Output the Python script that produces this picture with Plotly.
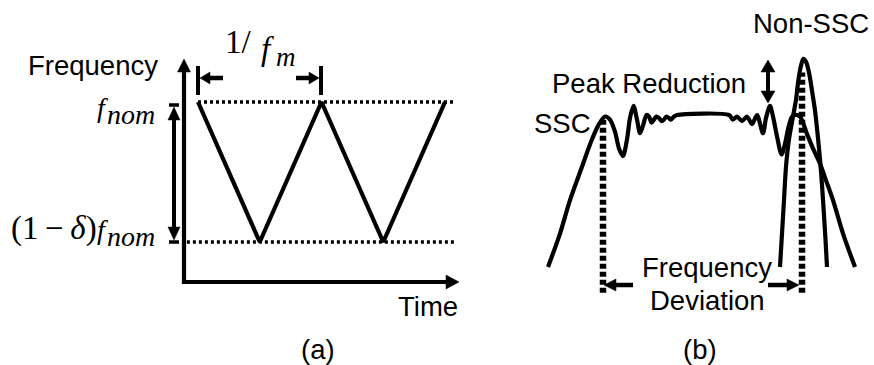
import plotly.graph_objects as go

# ---- (a) triangular frequency modulation: time in modulation periods, frequency normalised (f_nom = 1, (1-delta) f_nom = 0)
tri_time = [0.0, 0.5, 1.0, 1.5, 2.0]
tri_freq = [1.0, 0.0, 1.0, 0.0, 1.0]
level_top_t = [0.0, 2.08]
level_bot_t = [-0.09, 2.08]
level_values = [1.0, 0.0]

# ---- (b) spectrum: frequency offset (normalised) vs. magnitude (SSC plateau = 1)
ssc_f = [-1.52, -1.40, -1.30, -1.18, -1.08, -1.01, -0.95, -0.90, -0.85, -0.81, -0.77, -0.73, -0.70,
         -0.665, -0.63, -0.60, -0.57, -0.535, -0.51, -0.485, -0.46, -0.435, -0.41, -0.385, -0.36,
         -0.335, -0.31, -0.29, -0.26, -0.23, 0.29, 0.33, 0.37, 0.42, 0.47, 0.52, 0.57, 0.63, 0.66,
         0.70, 0.73, 0.77, 0.815, 0.85, 0.885, 0.92, 0.95, 1.00, 1.067, 1.13, 1.20, 1.26, 1.33, 1.43, 1.55]
ssc_mag = [0.00, 0.22, 0.44, 0.66, 0.84, 0.94, 0.99, 0.97, 0.89, 0.78, 0.73, 0.84, 0.98,
           1.06, 0.97, 0.88, 0.93, 1.00, 0.99, 0.95, 0.97, 0.99, 0.98, 0.96, 0.97,
           0.99, 0.98, 0.97, 0.99, 1.00, 1.00, 0.97, 0.99, 0.96, 0.99, 0.94, 1.00, 0.88, 0.98,
           1.06, 0.99, 0.86, 0.74, 0.81, 0.92, 0.99, 1.00, 0.99, 0.88, 0.78, 0.68, 0.57, 0.44, 0.22, 0.00]
nonssc_f = [0.80, 0.82, 0.84, 0.86, 0.89, 0.93, 0.96, 0.98, 1.005, 1.033, 1.06, 1.09, 1.12, 1.15,
            1.175, 1.20, 1.22, 1.24, 1.255, 1.27]
nonssc_mag = [0.00, 0.22, 0.44, 0.66, 0.84, 0.99, 1.10, 1.21, 1.31, 1.37, 1.35, 1.28, 1.16, 1.03,
              0.88, 0.71, 0.54, 0.34, 0.18, 0.00]
dev_edges_f = [-0.97, 1.02]
dev_edges_top = [0.97, 1.28]
dev_bottom = -0.17

BLACK = "black"
SANS = "Liberation Sans, Arial, sans-serif"
SERIF = "Liberation Serif, Times New Roman, serif"

fig = go.Figure()

# panel (a) reference levels (dotted) and the triangular sweep
for ts, lv in zip([level_top_t, level_bot_t], level_values):
    fig.add_shape(type="line", xref="x", yref="y", x0=ts[0], x1=ts[1], y0=lv, y1=lv,
                  line=dict(color=BLACK, width=3.5, dash="3px,3px"))
fig.add_trace(go.Scatter(x=tri_time, y=tri_freq, mode="lines",
                         line=dict(color=BLACK, width=4.2), xaxis="x", yaxis="y"))

# panel (b): deviation edges as heavy dotted verticals, then the two spectra
for fx, top in zip(dev_edges_f, dev_edges_top):
    fig.add_shape(type="line", xref="x2", yref="y2", x0=fx, x1=fx, y0=dev_bottom, y1=top,
                  line=dict(color=BLACK, width=6.5, dash="5px,3px"))
fig.add_trace(go.Scatter(x=ssc_f, y=ssc_mag, mode="lines", line_shape="spline",
                         line=dict(color=BLACK, width=4.2, smoothing=0.8), xaxis="x2", yaxis="y2"))
fig.add_trace(go.Scatter(x=nonssc_f, y=nonssc_mag, mode="lines", line_shape="spline",
                         line=dict(color=BLACK, width=4.2, smoothing=0.8), xaxis="x2", yaxis="y2"))


# ---- annotation graphics in page-pixel axes (x3 / y3)
def seg(x0, y0, x1, y1, w):
    fig.add_trace(go.Scatter(x=[x0, x1], y=[y0, y1], mode="lines",
                             line=dict(color=BLACK, width=w), xaxis="x3", yaxis="y3"))


def head(tx, ty, dx, dy, length, half):
    bx, by = tx - dx * length, ty - dy * length
    nx, ny = -dy, dx
    fig.add_trace(go.Scatter(x=[tx, bx + nx * half, bx - nx * half, tx],
                             y=[ty, by + ny * half, by - ny * half, ty],
                             mode="lines", fill="toself", fillcolor=BLACK,
                             line=dict(color=BLACK, width=0.5), xaxis="x3", yaxis="y3"))


def arrow(x0, y0, x1, y1, w, length, half):
    d = ((x1 - x0) ** 2 + (y1 - y0) ** 2) ** 0.5
    dx, dy = (x1 - x0) / d, (y1 - y0) / d
    seg(x0, y0, x1 - dx * (length - 1), y1 - dy * (length - 1), w)
    head(x1, y1, dx, dy, length, half)


# axes of panel (a)
arrow(184, 284, 184, 59, 4.2, 13, 6.5)
arrow(182, 282, 459, 282, 4.2, 13, 7)
# modulation period markers
seg(198, 66, 198, 95, 4)
seg(321, 66, 321, 95, 4)
arrow(223, 78, 200, 78, 4.5, 10, 6)
arrow(296, 78, 319, 78, 4.5, 10, 6)
# frequency span arrow
seg(169, 105, 179, 105, 3.5)
seg(169, 242, 179, 242, 3.5)
arrow(174, 170, 174, 107, 4, 13, 6)
arrow(174, 170, 174, 240, 4, 13, 6)

# panel (b) arrows
arrow(768, 82, 768, 60, 4, 12, 7)
arrow(768, 82, 768, 103, 4, 12, 7)
arrow(633, 285, 604, 285, 4.5, 12, 6)
arrow(768, 285, 799, 285, 4.5, 12, 6)


def label(x, y, text, size, family=SANS, xanchor="center"):
    fig.add_annotation(x=x, y=y, xref="x3", yref="y3", text=text, showarrow=False,
                       xanchor=xanchor, yanchor="middle",
                       font=dict(family=family, size=size, color=BLACK))


label(93, 65, "Frequency", 27.5)
label(427.5, 306, "Time", 27.5)
label(318, 349, "(a)", 27.5)
label(810.5, 23, "Non-SSC", 27.5)
label(648.5, 83, "Peak Reduction", 27.5)
label(562.5, 123, "SSC", 27.5)
label(707, 267, "Frequency", 27.5)
label(707.5, 300, "Deviation", 27.5)
label(700, 349, "(b)", 27.5)

# math labels
label(223, 42, "1/", 33, SERIF, "left")
label(259, 48.5, "<i>f</i>", 33, SERIF, "left")
label(274, 57, "<i>m</i>", 27, SERIF, "left")
label(95, 107.5, "<i>f</i>", 28, SERIF, "left")
label(105, 114.5, "<i>nom</i>", 28, SERIF, "left")
label(9, 228, "(1\u2009\u2212\u2009<i>\u03b4</i>)", 33, SERIF, "left")
label(95, 229.5, "<i>f</i>", 28, SERIF, "left")
label(105, 236.5, "<i>nom</i>", 28, SERIF, "left")

hidden = dict(visible=False, showgrid=False, zeroline=False, fixedrange=True)
fig.update_layout(
    width=874, height=365, autosize=False,
    margin=dict(l=0, r=0, t=0, b=0),
    paper_bgcolor="white", plot_bgcolor="white",
    showlegend=False,
    xaxis=dict(range=[-1.6032, 5.4737], domain=[0, 1], **hidden),
    yaxis=dict(range=[-0.8786, 1.7286], domain=[0, 1], **hidden),
    xaxis2=dict(range=[-7.0, 1.74], overlaying="x", **hidden),
    yaxis2=dict(range=[-0.6447, 1.7566], overlaying="y", **hidden),
    xaxis3=dict(range=[0, 874], overlaying="x", **hidden),
    yaxis3=dict(range=[365, 0], overlaying="y", **hidden),
)

fig.write_html("out.html", config=dict(displayModeBar=False))
